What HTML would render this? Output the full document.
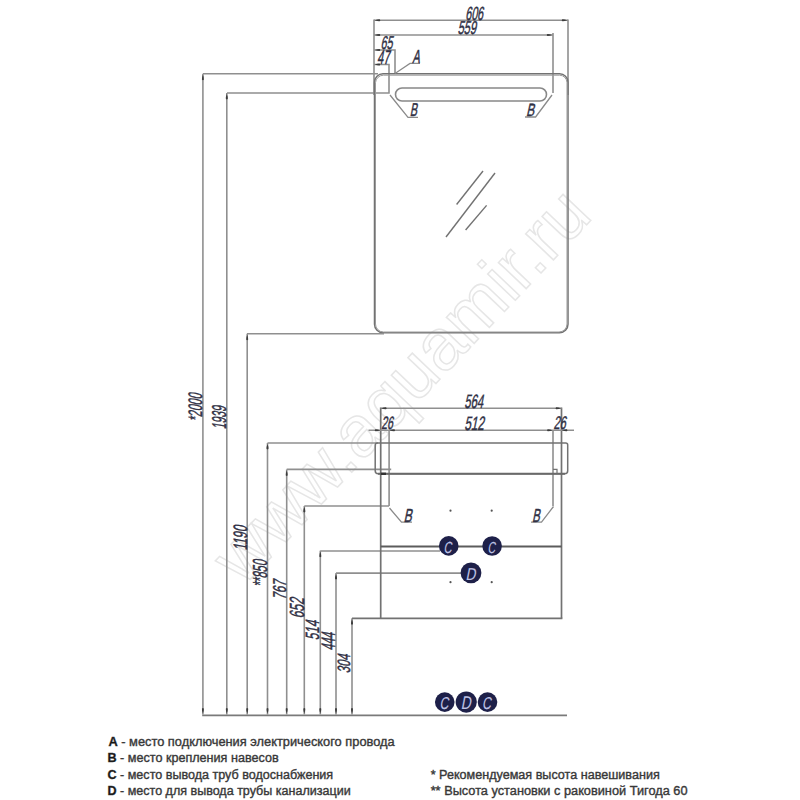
<!DOCTYPE html>
<html><head><meta charset="utf-8">
<style>
html,body{margin:0;padding:0;background:#fff;}
body{width:800px;height:800px;position:relative;overflow:hidden;font-family:"Liberation Sans",sans-serif;}
svg{position:absolute;left:0;top:0;}
svg text{font-family:"Liberation Sans",sans-serif;}
.lg{position:absolute;font-size:11.5px;line-height:16.3px;color:#3a3a3a;white-space:nowrap;}
.lg b{color:#1a1a1a;font-size:13px;}
</style></head><body>
<svg width="800" height="800" viewBox="0 0 800 800">
<text transform="translate(243,587) rotate(-46.5)" x="0" y="0" font-size="72" textLength="510" lengthAdjust="spacing" fill="none" stroke="#e6e6e6" stroke-width="1.5">www.aquamir.ru</text>
<line x1="374" y1="19.5" x2="374" y2="95" stroke="#8f8f8f" stroke-width="1.6"/>
<line x1="568" y1="19.5" x2="568" y2="95" stroke="#8f8f8f" stroke-width="1.6"/>
<line x1="374" y1="20.3" x2="568" y2="20.3" stroke="#8f8f8f" stroke-width="1.6"/>
<path transform="translate(374.8,20.3) rotate(-90)" d="M0,0 Q-1.1,2.7 -0.9900000000000001,4.800000000000001 Q0,6.300000000000001 0.9900000000000001,4.800000000000001 Q1.1,2.7 0,0 Z" fill="#3c3c3c"/>
<path transform="translate(567.2,20.3) rotate(90)" d="M0,0 Q-1.1,2.7 -0.9900000000000001,4.800000000000001 Q0,6.300000000000001 0.9900000000000001,4.800000000000001 Q1.1,2.7 0,0 Z" fill="#3c3c3c"/>
<line x1="374" y1="35" x2="553" y2="35" stroke="#8f8f8f" stroke-width="1.6"/>
<path transform="translate(374.8,35) rotate(-90)" d="M0,0 Q-1.1,2.7 -0.9900000000000001,4.800000000000001 Q0,6.300000000000001 0.9900000000000001,4.800000000000001 Q1.1,2.7 0,0 Z" fill="#3c3c3c"/>
<path transform="translate(552.2,35) rotate(90)" d="M0,0 Q-1.1,2.7 -0.9900000000000001,4.800000000000001 Q0,6.300000000000001 0.9900000000000001,4.800000000000001 Q1.1,2.7 0,0 Z" fill="#3c3c3c"/>
<line x1="553" y1="33" x2="553" y2="93" stroke="#8f8f8f" stroke-width="1.6"/>
<polyline points="374,50 395,50 395,73.5" fill="none" stroke="#8f8f8f" stroke-width="1.6" stroke-linejoin="miter"/>
<path transform="translate(374.8,50) rotate(-90)" d="M0,0 Q-1.1,2.7 -0.9900000000000001,4.800000000000001 Q0,6.300000000000001 0.9900000000000001,4.800000000000001 Q1.1,2.7 0,0 Z" fill="#3c3c3c"/>
<polyline points="374,64.5 389,64.5 389,93 227,93" fill="none" stroke="#8f8f8f" stroke-width="1.6" stroke-linejoin="miter"/>
<path transform="translate(374.8,64.5) rotate(-90)" d="M0,0 Q-1.1,2.7 -0.9900000000000001,4.800000000000001 Q0,6.300000000000001 0.9900000000000001,4.800000000000001 Q1.1,2.7 0,0 Z" fill="#3c3c3c"/>
<line x1="203" y1="73.7" x2="378" y2="73.7" stroke="#8f8f8f" stroke-width="1.6"/>
<path d="M383,73.7 L559.5,73.7 A8.5,8.5 0 0 1 568,82.2 L568,324.2 A8.5,8.5 0 0 1 559.5,332.7 L383,332.7 A8.5,8.5 0 0 1 374.5,324.2 L374.5,82.2 A8.5,8.5 0 0 1 383,73.7 Z" fill="none" stroke="#727272" stroke-width="1.5"/>
<path d="M383.5,75.2 L559.5,75.2 A7.5,7.5 0 0 1 567,82.7 L567,324 A8,8 0 0 1 559,332 L383.5,332 A8,8 0 0 1 375.5,324 L375.5,82.7 A8,8 0 0 1 383.5,75.2 Z" fill="none" stroke="#9a9a9a" stroke-width="1.0"/>
<line x1="247" y1="333.7" x2="384" y2="333.7" stroke="#8f8f8f" stroke-width="1.6"/>
<polyline points="395,73.5 410,63.4 420,63.4" fill="none" stroke="#8a8a8a" stroke-width="1.2" stroke-linejoin="miter"/>
<path d="M402,88 L540,88 A6.5,6.5 0 0 1 540,101 L402,101 A6.5,6.5 0 0 1 402,88 Z" fill="none" stroke="#888" stroke-width="1.6"/>
<polyline points="390,95 408,117.3 418,117.3" fill="none" stroke="#8a8a8a" stroke-width="1.3" stroke-linejoin="miter"/>
<polyline points="552,95 535.6,117 525,117" fill="none" stroke="#8a8a8a" stroke-width="1.3" stroke-linejoin="miter"/>
<line x1="456.6" y1="204.5" x2="483" y2="171" stroke="#727272" stroke-width="1.4"/>
<line x1="446" y1="237" x2="495" y2="173" stroke="#727272" stroke-width="1.4"/>
<line x1="465.6" y1="230" x2="486.6" y2="205.4" stroke="#727272" stroke-width="1.4"/>
<text transform="translate(466.60,6.40) scale(0.1066,0.1901) translate(-13,70) skewX(-18)" x="0" y="0" font-size="100" fill="#303044" stroke="#303044" stroke-width="0.4" vector-effect="non-scaling-stroke">606</text>
<text transform="translate(458.40,20.90) scale(0.1113,0.1859) translate(-9,70) skewX(-18)" x="0" y="0" font-size="100" fill="#303044" stroke="#303044" stroke-width="0.4" vector-effect="non-scaling-stroke">559</text>
<text transform="translate(381.90,35.80) scale(0.1071,0.1859) translate(-13,70) skewX(-18)" x="0" y="0" font-size="100" fill="#303044" stroke="#303044" stroke-width="0.4" vector-effect="non-scaling-stroke">65</text>
<text transform="translate(378.00,50.50) scale(0.1100,0.1957) translate(-8,69) skewX(-18)" x="0" y="0" font-size="100" fill="#303044" stroke="#303044" stroke-width="0.4" vector-effect="non-scaling-stroke">47</text>
<text transform="translate(412.30,49.90) scale(0.1108,0.1884) translate(-1,69) skewX(-18)" x="0" y="0" font-size="100" fill="#303044" stroke="#303044" stroke-width="0.4" vector-effect="non-scaling-stroke">A</text>
<text transform="translate(410.60,103.70) scale(0.1075,0.1855) translate(-8,69) skewX(-18)" x="0" y="0" font-size="100" fill="#303044" stroke="#303044" stroke-width="0.4" vector-effect="non-scaling-stroke">B</text>
<text transform="translate(526.90,103.60) scale(0.1209,0.1768) translate(-8,69) skewX(-18)" x="0" y="0" font-size="100" fill="#303044" stroke="#303044" stroke-width="0.4" vector-effect="non-scaling-stroke">B</text>
<line x1="202.9" y1="73.7" x2="202.9" y2="714.4" stroke="#8f8f8f" stroke-width="1.6"/>
<path transform="translate(202.9,74.7) rotate(0)" d="M0,0 Q-1.1,2.7 -0.9900000000000001,4.800000000000001 Q0,6.300000000000001 0.9900000000000001,4.800000000000001 Q1.1,2.7 0,0 Z" fill="#3c3c3c"/>
<path transform="translate(202.9,713.6) rotate(180)" d="M0,0 Q-1.1,2.7 -0.9900000000000001,4.800000000000001 Q0,6.300000000000001 0.9900000000000001,4.800000000000001 Q1.1,2.7 0,0 Z" fill="#3c3c3c"/>
<line x1="226.8" y1="93" x2="226.8" y2="714.4" stroke="#8f8f8f" stroke-width="1.6"/>
<path transform="translate(226.8,94) rotate(0)" d="M0,0 Q-1.1,2.7 -0.9900000000000001,4.800000000000001 Q0,6.300000000000001 0.9900000000000001,4.800000000000001 Q1.1,2.7 0,0 Z" fill="#3c3c3c"/>
<path transform="translate(226.8,713.6) rotate(180)" d="M0,0 Q-1.1,2.7 -0.9900000000000001,4.800000000000001 Q0,6.300000000000001 0.9900000000000001,4.800000000000001 Q1.1,2.7 0,0 Z" fill="#3c3c3c"/>
<line x1="247.2" y1="333.7" x2="247.2" y2="714.4" stroke="#8f8f8f" stroke-width="1.6"/>
<path transform="translate(247.2,334.7) rotate(0)" d="M0,0 Q-1.1,2.7 -0.9900000000000001,4.800000000000001 Q0,6.300000000000001 0.9900000000000001,4.800000000000001 Q1.1,2.7 0,0 Z" fill="#3c3c3c"/>
<path transform="translate(247.2,713.6) rotate(180)" d="M0,0 Q-1.1,2.7 -0.9900000000000001,4.800000000000001 Q0,6.300000000000001 0.9900000000000001,4.800000000000001 Q1.1,2.7 0,0 Z" fill="#3c3c3c"/>
<line x1="267.5" y1="443" x2="267.5" y2="714.4" stroke="#8f8f8f" stroke-width="1.6"/>
<path transform="translate(267.5,444) rotate(0)" d="M0,0 Q-1.1,2.7 -0.9900000000000001,4.800000000000001 Q0,6.300000000000001 0.9900000000000001,4.800000000000001 Q1.1,2.7 0,0 Z" fill="#3c3c3c"/>
<path transform="translate(267.5,713.6) rotate(180)" d="M0,0 Q-1.1,2.7 -0.9900000000000001,4.800000000000001 Q0,6.300000000000001 0.9900000000000001,4.800000000000001 Q1.1,2.7 0,0 Z" fill="#3c3c3c"/>
<line x1="286.7" y1="469.5" x2="286.7" y2="714.4" stroke="#8f8f8f" stroke-width="1.6"/>
<path transform="translate(286.7,470.5) rotate(0)" d="M0,0 Q-1.1,2.7 -0.9900000000000001,4.800000000000001 Q0,6.300000000000001 0.9900000000000001,4.800000000000001 Q1.1,2.7 0,0 Z" fill="#3c3c3c"/>
<path transform="translate(286.7,713.6) rotate(180)" d="M0,0 Q-1.1,2.7 -0.9900000000000001,4.800000000000001 Q0,6.300000000000001 0.9900000000000001,4.800000000000001 Q1.1,2.7 0,0 Z" fill="#3c3c3c"/>
<line x1="304.3" y1="506" x2="304.3" y2="714.4" stroke="#8f8f8f" stroke-width="1.6"/>
<path transform="translate(304.3,507) rotate(0)" d="M0,0 Q-1.1,2.7 -0.9900000000000001,4.800000000000001 Q0,6.300000000000001 0.9900000000000001,4.800000000000001 Q1.1,2.7 0,0 Z" fill="#3c3c3c"/>
<path transform="translate(304.3,713.6) rotate(180)" d="M0,0 Q-1.1,2.7 -0.9900000000000001,4.800000000000001 Q0,6.300000000000001 0.9900000000000001,4.800000000000001 Q1.1,2.7 0,0 Z" fill="#3c3c3c"/>
<line x1="320.3" y1="550.7" x2="320.3" y2="714.4" stroke="#8f8f8f" stroke-width="1.6"/>
<path transform="translate(320.3,551.7) rotate(0)" d="M0,0 Q-1.1,2.7 -0.9900000000000001,4.800000000000001 Q0,6.300000000000001 0.9900000000000001,4.800000000000001 Q1.1,2.7 0,0 Z" fill="#3c3c3c"/>
<path transform="translate(320.3,713.6) rotate(180)" d="M0,0 Q-1.1,2.7 -0.9900000000000001,4.800000000000001 Q0,6.300000000000001 0.9900000000000001,4.800000000000001 Q1.1,2.7 0,0 Z" fill="#3c3c3c"/>
<line x1="336" y1="573" x2="336" y2="714.4" stroke="#8f8f8f" stroke-width="1.6"/>
<path transform="translate(336,574) rotate(0)" d="M0,0 Q-1.1,2.7 -0.9900000000000001,4.800000000000001 Q0,6.300000000000001 0.9900000000000001,4.800000000000001 Q1.1,2.7 0,0 Z" fill="#3c3c3c"/>
<path transform="translate(336,713.6) rotate(180)" d="M0,0 Q-1.1,2.7 -0.9900000000000001,4.800000000000001 Q0,6.300000000000001 0.9900000000000001,4.800000000000001 Q1.1,2.7 0,0 Z" fill="#3c3c3c"/>
<line x1="352" y1="618.3" x2="352" y2="714.4" stroke="#8f8f8f" stroke-width="1.6"/>
<path transform="translate(352,619.3) rotate(0)" d="M0,0 Q-1.1,2.7 -0.9900000000000001,4.800000000000001 Q0,6.300000000000001 0.9900000000000001,4.800000000000001 Q1.1,2.7 0,0 Z" fill="#3c3c3c"/>
<path transform="translate(352,713.6) rotate(180)" d="M0,0 Q-1.1,2.7 -0.9900000000000001,4.800000000000001 Q0,6.300000000000001 0.9900000000000001,4.800000000000001 Q1.1,2.7 0,0 Z" fill="#3c3c3c"/>
<line x1="202.2" y1="715.4" x2="567" y2="715.4" stroke="#7a7a7a" stroke-width="1.6"/>
<line x1="267.5" y1="443" x2="378" y2="443" stroke="#8f8f8f" stroke-width="1.6"/>
<line x1="286.7" y1="469.4" x2="391.2" y2="469.4" stroke="#8f8f8f" stroke-width="1.6"/>
<line x1="304.3" y1="506" x2="389" y2="506" stroke="#8f8f8f" stroke-width="1.6"/>
<line x1="320.3" y1="551" x2="440" y2="551" stroke="#8f8f8f" stroke-width="1.6"/>
<line x1="336" y1="573.1" x2="462" y2="573.1" stroke="#8f8f8f" stroke-width="1.6"/>
<line x1="352" y1="618.3" x2="562.4" y2="618.3" stroke="#727272" stroke-width="1.7"/>
<text transform="translate(188.80,419.40) rotate(-90) scale(0.1067,0.1944) translate(-19,70) skewX(-18)" x="0" y="0" font-size="100" fill="#303044" stroke="#303044" stroke-width="0.4" vector-effect="non-scaling-stroke">*2000</text>
<text transform="translate(212.40,428.40) rotate(-90) scale(0.1040,0.2000) translate(-8,70) skewX(-18)" x="0" y="0" font-size="100" fill="#303044" stroke="#303044" stroke-width="0.4" vector-effect="non-scaling-stroke">1939</text>
<text transform="translate(233.40,549.50) rotate(-90) scale(0.1135,0.1944) translate(-8,70) skewX(-18)" x="0" y="0" font-size="100" fill="#303044" stroke="#303044" stroke-width="0.4" vector-effect="non-scaling-stroke">1190</text>
<text transform="translate(252.90,585.00) rotate(-90) scale(0.1097,0.2028) translate(-19,70) skewX(-18)" x="0" y="0" font-size="100" fill="#303044" stroke="#303044" stroke-width="0.4" vector-effect="non-scaling-stroke">**850</text>
<text transform="translate(273.30,597.60) rotate(-90) scale(0.1157,0.1859) translate(-18,70) skewX(-18)" x="0" y="0" font-size="100" fill="#303044" stroke="#303044" stroke-width="0.4" vector-effect="non-scaling-stroke">767</text>
<text transform="translate(289.50,616.90) rotate(-90) scale(0.1218,0.2042) translate(-13,70) skewX(-18)" x="0" y="0" font-size="100" fill="#303044" stroke="#303044" stroke-width="0.4" vector-effect="non-scaling-stroke">652</text>
<text transform="translate(306.00,639.20) rotate(-90) scale(0.1168,0.1929) translate(-9,69) skewX(-18)" x="0" y="0" font-size="100" fill="#303044" stroke="#303044" stroke-width="0.4" vector-effect="non-scaling-stroke">514</text>
<text transform="translate(321.70,649.70) rotate(-90) scale(0.1071,0.1957) translate(-8,69) skewX(-18)" x="0" y="0" font-size="100" fill="#303044" stroke="#303044" stroke-width="0.4" vector-effect="non-scaling-stroke">444</text>
<text transform="translate(337.50,672.20) rotate(-90) scale(0.1120,0.1789) translate(-9,70) skewX(-18)" x="0" y="0" font-size="100" fill="#303044" stroke="#303044" stroke-width="0.4" vector-effect="non-scaling-stroke">304</text>
<line x1="380.7" y1="407.5" x2="380.7" y2="618.3" stroke="#727272" stroke-width="1.7"/>
<line x1="561.5" y1="407.5" x2="561.5" y2="618.3" stroke="#727272" stroke-width="1.7"/>
<line x1="380.7" y1="408.2" x2="561.5" y2="408.2" stroke="#8f8f8f" stroke-width="1.6"/>
<path transform="translate(381.2,408.2) rotate(-90)" d="M0,0 Q-1.1,2.7 -0.9900000000000001,4.800000000000001 Q0,6.300000000000001 0.9900000000000001,4.800000000000001 Q1.1,2.7 0,0 Z" fill="#3c3c3c"/>
<path transform="translate(561,408.2) rotate(90)" d="M0,0 Q-1.1,2.7 -0.9900000000000001,4.800000000000001 Q0,6.300000000000001 0.9900000000000001,4.800000000000001 Q1.1,2.7 0,0 Z" fill="#3c3c3c"/>
<line x1="368.5" y1="430.2" x2="574" y2="430.2" stroke="#8f8f8f" stroke-width="1.6"/>
<path transform="translate(380.2,430.2) rotate(90)" d="M0,0 Q-1.1,2.7 -0.9900000000000001,4.800000000000001 Q0,6.300000000000001 0.9900000000000001,4.800000000000001 Q1.1,2.7 0,0 Z" fill="#3c3c3c"/>
<path transform="translate(389.6,430.2) rotate(-90)" d="M0,0 Q-1.1,2.7 -0.9900000000000001,4.800000000000001 Q0,6.300000000000001 0.9900000000000001,4.800000000000001 Q1.1,2.7 0,0 Z" fill="#3c3c3c"/>
<path transform="translate(552.5,430.2) rotate(90)" d="M0,0 Q-1.1,2.7 -0.9900000000000001,4.800000000000001 Q0,6.300000000000001 0.9900000000000001,4.800000000000001 Q1.1,2.7 0,0 Z" fill="#3c3c3c"/>
<path transform="translate(562,430.2) rotate(-90)" d="M0,0 Q-1.1,2.7 -0.9900000000000001,4.800000000000001 Q0,6.300000000000001 0.9900000000000001,4.800000000000001 Q1.1,2.7 0,0 Z" fill="#3c3c3c"/>
<line x1="389.1" y1="430.2" x2="389.1" y2="506" stroke="#8f8f8f" stroke-width="1.6"/>
<line x1="553" y1="430.2" x2="553" y2="506" stroke="#8f8f8f" stroke-width="1.6"/>
<path d="M377.5,442.9 L565.7,442.9 A2,2 0 0 1 567.7,444.9 L567.7,470.8 A3,3 0 0 1 564.7,473.8 L378.2,473.8 A3,3 0 0 1 375.2,470.8 L375.2,445.2 A2.3,2.3 0 0 1 377.5,442.9 Z" fill="none" stroke="#727272" stroke-width="1.5"/>
<line x1="378" y1="473.8" x2="565" y2="473.8" stroke="#6a6a6a" stroke-width="2.0"/>
<line x1="380.7" y1="473.8" x2="386" y2="473.8" stroke="#333" stroke-width="2.4"/>
<path d="M553,469.4 L557,469.4 L557,473.8" fill="none" stroke="#727272" stroke-width="1.2"/>
<line x1="380.7" y1="546.5" x2="561.5" y2="546.5" stroke="#5c5c5c" stroke-width="1.9"/>
<polyline points="389.5,508 401.5,522.2 412,522.2" fill="none" stroke="#8a8a8a" stroke-width="1.3" stroke-linejoin="miter"/>
<polyline points="553.5,506.5 541.5,522.2 531,522.2" fill="none" stroke="#8a8a8a" stroke-width="1.3" stroke-linejoin="miter"/>
<text transform="translate(404.50,509.00) scale(0.1224,0.1884) translate(-8,69) skewX(-18)" x="0" y="0" font-size="100" fill="#303044" stroke="#303044" stroke-width="0.4" vector-effect="non-scaling-stroke">B</text>
<text transform="translate(533.00,509.00) scale(0.1149,0.1884) translate(-8,69) skewX(-18)" x="0" y="0" font-size="100" fill="#303044" stroke="#303044" stroke-width="0.4" vector-effect="non-scaling-stroke">B</text>
<text transform="translate(465.30,394.00) scale(0.1120,0.1944) translate(-9,70) skewX(-18)" x="0" y="0" font-size="100" fill="#303044" stroke="#303044" stroke-width="0.4" vector-effect="non-scaling-stroke">564</text>
<text transform="translate(465.30,416.20) scale(0.1166,0.1944) translate(-9,70) skewX(-18)" x="0" y="0" font-size="100" fill="#303044" stroke="#303044" stroke-width="0.4" vector-effect="non-scaling-stroke">512</text>
<text transform="translate(381.70,416.20) scale(0.1042,0.1803) translate(-5,70) skewX(-18)" x="0" y="0" font-size="100" fill="#303044" stroke="#303044" stroke-width="0.4" vector-effect="non-scaling-stroke">26</text>
<text transform="translate(554.00,416.00) scale(0.1102,0.1831) translate(-5,70) skewX(-18)" x="0" y="0" font-size="100" fill="#303044" stroke="#303044" stroke-width="0.4" vector-effect="non-scaling-stroke">26</text>
<circle cx="450.5" cy="510.7" r="1.1" fill="#555"/>
<circle cx="491.7" cy="510.7" r="1.1" fill="#555"/>
<circle cx="450.5" cy="582.2" r="1.1" fill="#555"/>
<circle cx="491.7" cy="582.2" r="1.1" fill="#555"/>
<circle cx="448.75" cy="545.9" r="9.8" fill="#1e2049"/>
<text transform="translate(444.90,541.20) scale(0.1116,0.1620) translate(-12,70) skewX(-14)" x="0" y="0" font-size="100" fill="#bfc2e4" stroke="#bfc2e4" stroke-width="0.1" vector-effect="non-scaling-stroke">C</text>
<circle cx="492.1" cy="546" r="9.8" fill="#1e2049"/>
<text transform="translate(488.70,541.70) scale(0.1058,0.1592) translate(-12,70) skewX(-14)" x="0" y="0" font-size="100" fill="#bfc2e4" stroke="#bfc2e4" stroke-width="0.1" vector-effect="non-scaling-stroke">C</text>
<circle cx="471" cy="572.9" r="10.4" fill="#1e2049"/>
<text transform="translate(466.60,568.40) scale(0.1362,0.1725) translate(-8,69) skewX(-14)" x="0" y="0" font-size="100" fill="#bfc2e4" stroke="#bfc2e4" stroke-width="0.1" vector-effect="non-scaling-stroke">D</text>
<circle cx="444.75" cy="702.1" r="9.8" fill="#1e2049"/>
<text transform="translate(441.00,696.75) scale(0.1232,0.1725) translate(-12,70) skewX(-14)" x="0" y="0" font-size="100" fill="#bfc2e4" stroke="#bfc2e4" stroke-width="0.1" vector-effect="non-scaling-stroke">C</text>
<circle cx="487.5" cy="702.1" r="9.8" fill="#1e2049"/>
<text transform="translate(483.50,696.75) scale(0.1232,0.1725) translate(-12,70) skewX(-14)" x="0" y="0" font-size="100" fill="#bfc2e4" stroke="#bfc2e4" stroke-width="0.1" vector-effect="non-scaling-stroke">C</text>
<circle cx="466.25" cy="702.1" r="10.6" fill="#1e2049"/>
<text transform="translate(461.75,696.50) scale(0.1377,0.1848) translate(-8,69) skewX(-14)" x="0" y="0" font-size="100" fill="#bfc2e4" stroke="#bfc2e4" stroke-width="0.1" vector-effect="non-scaling-stroke">D</text>
<text transform="translate(108.40,746.1) scale(0.9515,1) translate(0,0)" x="0" y="0" font-size="13.5" fill="#383838" stroke="#383838" stroke-width="0.4"><tspan font-weight="bold" fill="#151515">A</tspan> - место подключения электрического провода</text>
<text transform="translate(108.40,762.3) scale(0.9352,1) translate(-1,0)" x="0" y="0" font-size="13.5" fill="#383838" stroke="#383838" stroke-width="0.4"><tspan font-weight="bold" fill="#151515">B</tspan> - место крепления навесов</text>
<text transform="translate(108.40,778.7) scale(0.9320,1) translate(-1,0)" x="0" y="0" font-size="13.5" fill="#383838" stroke="#383838" stroke-width="0.4"><tspan font-weight="bold" fill="#151515">C</tspan> - место вывода труб водоснабжения</text>
<text transform="translate(108.40,795) scale(0.9300,1) translate(-1,0)" x="0" y="0" font-size="13.5" fill="#383838" stroke="#383838" stroke-width="0.4"><tspan font-weight="bold" fill="#151515">D</tspan> - место для вывода трубы канализации</text>
<text transform="translate(431.60,778.5) scale(0.9340,1) translate(-1,0)" x="0" y="0" font-size="13.5" fill="#383838" stroke="#383838" stroke-width="0.4">* Рекомендуемая высота навешивания</text>
<text transform="translate(431.60,794.5) scale(0.9459,1) translate(-1,0)" x="0" y="0" font-size="13.5" fill="#383838" stroke="#383838" stroke-width="0.4">** Высота установки с раковиной Тигода 60</text>
</svg>

</body></html>
